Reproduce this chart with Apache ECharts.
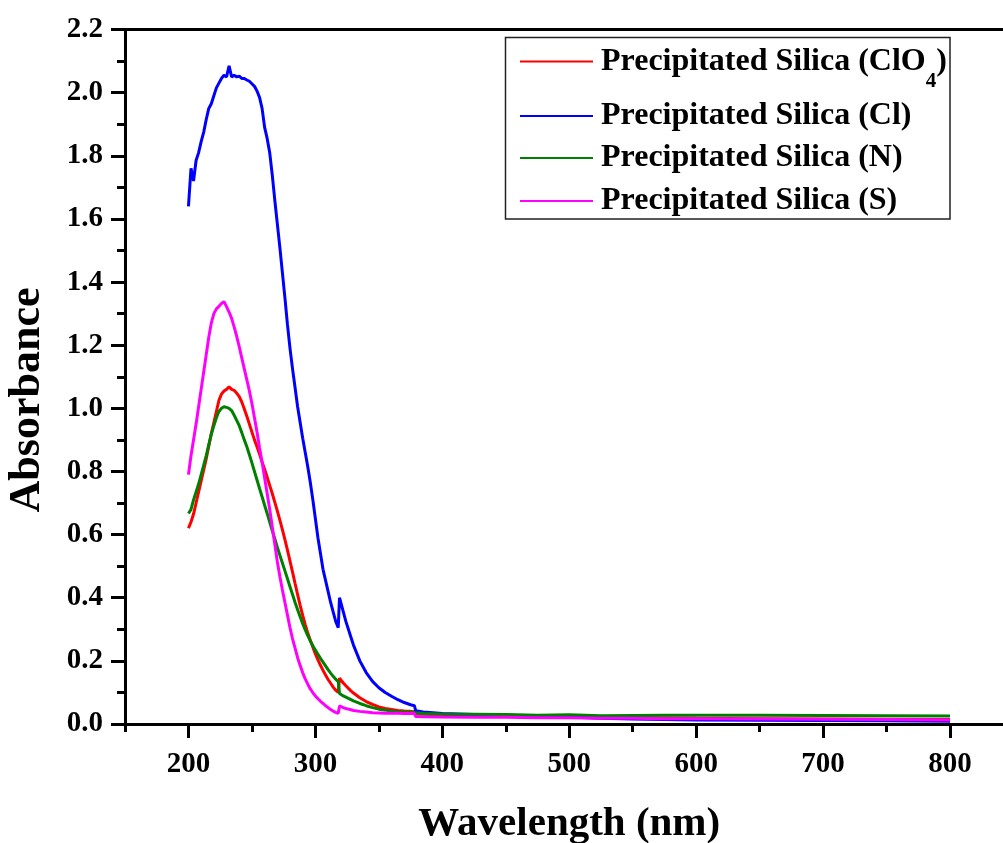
<!DOCTYPE html>
<html>
<head>
<meta charset="utf-8">
<title>UV-Vis Absorbance of Precipitated Silica</title>
<script src="https://cdn.jsdelivr.net/npm/echarts@6/dist/echarts.min.js"></script>
<style>
  html, body { margin: 0; padding: 0; background: #fff; overflow: hidden; }
  #chart { width: 1020px; height: 843px; }
</style>
</head>
<body>
<div id="chart"></div>
<script>
// Wavelength grid (nm) shared by all four spectra
const wavelength = [
  200,202,204,206,208,210,212,214,216,218,
  220,222,224,226,228,230,232,234,236,238,
  240,242,244,246,248,250,252,254,256,258,
  260,262,264,266,268,270,272,274,276,278,
  280,282,284,286,288,290,292,294,296,298,
  300,302,304,306,308,310,312,314,316,318,
  319,320,322,324,326,328,330,
  335,340,345,350,355,360,365,370,375,
  378,379,385,
  400,425,450,475,500,525,550,575,600,
  650,700,750,800
];

// Absorbance values on the wavelength grid
const absClO4 = [
  0.62,0.64,0.665,0.70,0.735,0.77,0.805,0.84,0.88,0.92,
  0.955,0.99,1.025,1.045,1.055,1.06,1.068,1.06,1.057,1.048,
  1.037,1.02,0.998,0.975,0.95,0.925,0.90,0.878,0.855,0.83,
  0.807,0.782,0.756,0.73,0.703,0.675,0.646,0.616,0.584,0.551,
  0.516,0.481,0.445,0.41,0.376,0.344,0.315,0.288,0.265,0.243,
  0.222,0.203,0.186,0.17,0.155,0.141,0.129,0.117,0.107,0.10,
  0.145,0.14,0.13,0.121,0.113,0.105,0.098,
  0.083,0.071,0.062,0.054,0.049,0.046,0.043,0.041,0.040,
  0.039,0.032,0.031,
  0.029,0.027,0.026,0.024,0.022,0.020,0.020,0.019,0.018,
  0.017,0.016,0.015,0.014
];

const absCl = [
  1.64,1.76,1.72,1.785,1.81,1.845,1.875,1.915,1.95,1.965,
  1.99,2.015,2.03,2.045,2.055,2.05,2.085,2.05,2.055,2.05,
  2.052,2.045,2.045,2.04,2.036,2.028,2.02,2.005,1.985,1.95,
  1.89,1.855,1.81,1.74,1.66,1.585,1.51,1.43,1.35,1.265,
  1.19,1.125,1.065,1.005,0.955,0.905,0.86,0.815,0.765,0.71,
  0.65,0.59,0.54,0.49,0.455,0.42,0.385,0.355,0.325,0.305,
  0.40,0.385,0.355,0.325,0.30,0.275,0.25,
  0.20,0.163,0.135,0.115,0.10,0.088,0.077,0.068,0.061,
  0.058,0.042,0.038,
  0.033,0.030,0.028,0.025,0.022,0.018,0.016,0.014,0.013,
  0.012,0.011,0.010,0.009
];

const absN = [
  0.667,0.68,0.71,0.735,0.76,0.79,0.82,0.85,0.885,0.918,
  0.945,0.97,0.99,1.0,1.005,1.003,1.0,0.993,0.978,0.962,
  0.945,0.923,0.90,0.878,0.853,0.827,0.80,0.773,0.746,0.72,
  0.693,0.667,0.64,0.613,0.587,0.56,0.535,0.51,0.485,0.46,
  0.435,0.41,0.385,0.362,0.34,0.318,0.298,0.28,0.263,0.248,
  0.234,0.221,0.208,0.196,0.184,0.172,0.161,0.151,0.142,0.134,
  0.097,0.094,0.089,0.085,0.081,0.077,0.073,
  0.065,0.058,0.052,0.047,0.044,0.041,0.039,0.038,0.037,
  0.036,0.033,0.033,
  0.032,0.031,0.030,0.028,0.029,0.026,0.027,0.028,0.028,
  0.028,0.027,0.026,0.025
];

const absS = [
  0.79,0.85,0.90,0.95,1.005,1.06,1.115,1.17,1.225,1.27,
  1.30,1.315,1.323,1.332,1.338,1.322,1.305,1.285,1.258,1.228,
  1.195,1.16,1.125,1.09,1.055,1.015,0.97,0.925,0.875,0.83,
  0.78,0.73,0.68,0.625,0.57,0.515,0.467,0.425,0.385,0.345,
  0.305,0.27,0.24,0.21,0.185,0.162,0.143,0.126,0.111,0.099,
  0.089,0.08,0.072,0.065,0.058,0.052,0.046,0.041,0.037,0.034,
  0.057,0.055,0.052,0.049,0.047,0.045,0.043,
  0.040,0.038,0.036,0.035,0.034,0.034,0.034,0.033,0.033,
  0.033,0.024,0.023,
  0.022,0.021,0.021,0.020,0.020,0.018,0.018,0.017,0.017,
  0.016,0.015,0.014,0.013
];

const seriesNames = [
  'Precipitated Silica (ClO4)',
  'Precipitated Silica (Cl)',
  'Precipitated Silica (N)',
  'Precipitated Silica (S)'
];
const seriesValues = [absClO4, absCl, absN, absS];
const seriesColors = ['#ff0000', '#0000ff', '#008000', '#ff00ff'];

// Labelled wavelength ticks
const xMajorTicks = [200, 300, 400, 500, 600, 700, 800];

const FONT = '"Liberation Serif", "Times New Roman", "DejaVu Serif", serif';
const BLACK = '#000';

const legendTop = [31, 100, 142, 185];

const chart = echarts.init(document.getElementById('chart'), null, { renderer: 'canvas' });

const textBase = { fontFamily: FONT, fontWeight: 'bold', color: BLACK };

const option = {
  backgroundColor: '#fff',
  animation: false,
  grid: {
    left: 125, top: 29.5, right: 6.5, bottom: 119,
    containLabel: false,
    outerBoundsMode: 'none'
  },
  xAxis: [
    {
      type: 'value', min: 150, max: 850, position: 'bottom',
      axisLine: { show: true, onZero: false, lineStyle: { color: BLACK, width: 3 } },
      axisTick: { show: true, customValues: xMajorTicks, length: 14, lineStyle: { color: BLACK, width: 3 } },
      axisLabel: Object.assign({ show: true, customValues: xMajorTicks, margin: 26, fontSize: 29 }, textBase),
      splitLine: { show: false },
      name: 'Wavelength (nm)', nameLocation: 'middle', nameGap: 80,
      nameTextStyle: Object.assign({ fontSize: 41 }, textBase)
    },
    {
      type: 'value', min: 150, max: 850, interval: 50, position: 'bottom',
      axisLine: { show: false, onZero: false },
      axisTick: { show: true, length: 8, lineStyle: { color: BLACK, width: 3 } },
      axisLabel: { show: false },
      splitLine: { show: false }
    },
    {
      type: 'value', min: 150, max: 850, position: 'top',
      axisLine: { show: true, onZero: false, lineStyle: { color: BLACK, width: 3 } },
      axisTick: { show: false },
      axisLabel: { show: false },
      splitLine: { show: false }
    }
  ],
  yAxis: {
    type: 'value', min: 0, max: 2.2, interval: 0.2,
    axisLine: { show: true, onZero: false, lineStyle: { color: BLACK, width: 3 } },
    axisTick: { show: true, length: 14, lineStyle: { color: BLACK, width: 3 } },
    minorTick: { show: true, splitNumber: 2, length: 8, lineStyle: { color: BLACK, width: 3 } },
    axisLabel: Object.assign({
      margin: 22, fontSize: 29,
      formatter: v => v.toFixed(1)
    }, textBase),
    splitLine: { show: false },
    minorSplitLine: { show: false }
  },
  legend: seriesNames.map((name, i) => ({
    data: [name],
    left: 519,
    top: legendTop[i],
    padding: 0,
    itemWidth: 73,
    itemHeight: 14,
    selectedMode: false,
    itemStyle: { opacity: 0 },
    lineStyle: { width: 2 },
    formatter: n => n.indexOf('ClO4') >= 0
      ? '{m|Precipitated Silica (ClO}{s|4}{m|)}'
      : '{m|' + n + '}',
    textStyle: {
      padding: [0, 0, 0, 3],
      rich: {
        m: { fontFamily: FONT, fontWeight: 'bold', fontSize: 32, lineHeight: 32, color: BLACK },
        s: { fontFamily: FONT, fontWeight: 'bold', fontSize: 21, lineHeight: 21, color: BLACK, padding: [40, 0, 0, 0] }
      }
    }
  })),
  graphic: [
    {
      type: 'rect',
      shape: { x: 505.5, y: 37.5, width: 444.5, height: 181.5 },
      style: { fill: 'none', stroke: '#222', lineWidth: 1.5 },
      silent: true
    },
    {
      type: 'text',
      x: 28, y: 400,
      rotation: Math.PI / 2,
      style: {
        text: 'Absorbance',
        font: 'bold 44px ' + FONT,
        fill: BLACK,
        align: 'center',
        verticalAlign: 'middle'
      },
      silent: true
    }
  ],
  series: seriesNames.map((name, i) => ({
    name: name,
    type: 'line',
    xAxisIndex: 0,
    yAxisIndex: 0,
    symbol: 'none',
    showSymbol: false,
    clip: true,
    color: seriesColors[i],
    lineStyle: { color: seriesColors[i], width: 3 },
    data: wavelength.map((w, k) => [w, seriesValues[i][k]])
  }))
};

chart.setOption(option);
</script>
</body>
</html>
